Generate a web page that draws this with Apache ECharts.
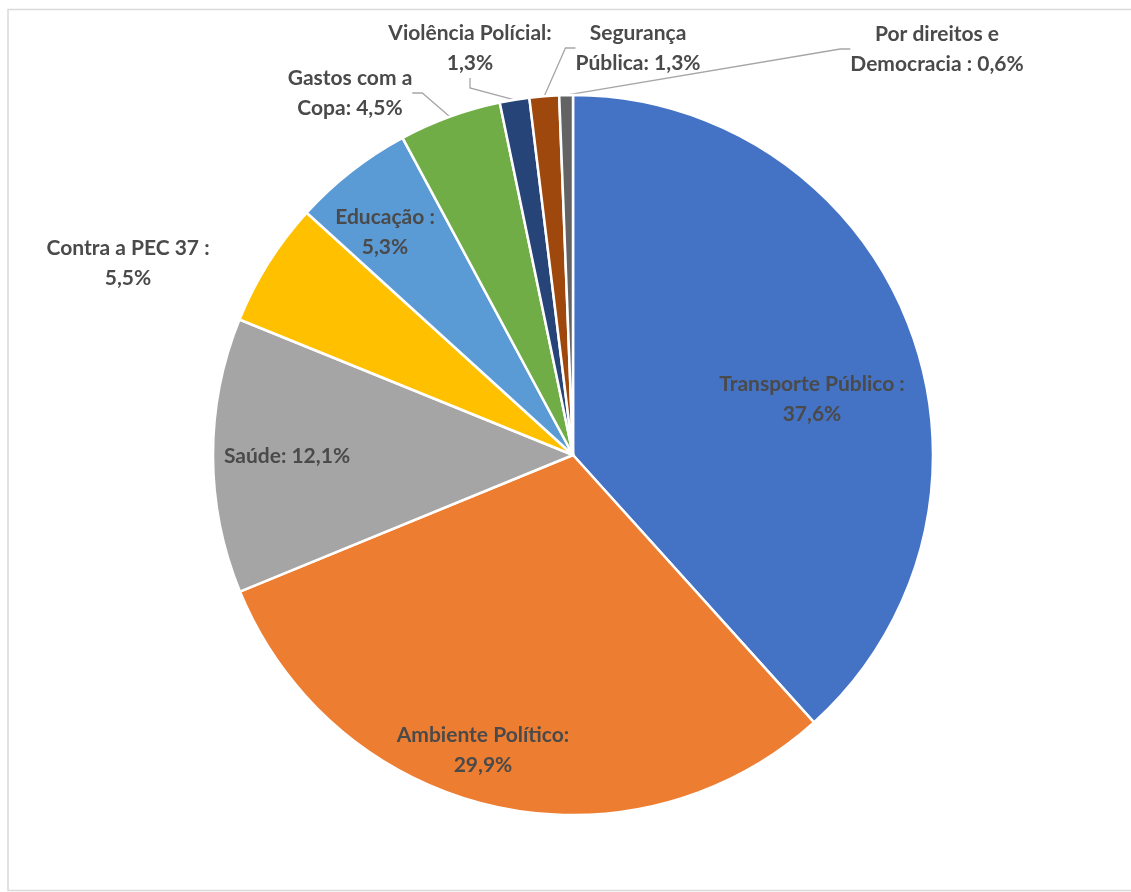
<!DOCTYPE html>
<html>
<head>
<meta charset="utf-8">
<script src="https://cdn.jsdelivr.net/npm/echarts@6/dist/echarts.min.js"></script>
<style>
  html, body { margin: 0; padding: 0; background: #fff; }
  #chart { width: 1131px; height: 892px; }
</style>
</head>
<body>
<div id="chart"></div>
<script>
// slices, clockwise from 12 o'clock
const categories = [
  "Transporte Público", "Ambiente Político", "Saúde", "Contra a PEC 37",
  "Educação", "Gastos com a Copa", "Violência Polícial", "Segurança Pública",
  "Por direitos e Democracia"
];
const values = [37.6, 29.9, 12.1, 5.5, 5.3, 4.5, 1.3, 1.3, 0.6];
// label text before the value (Excel wraps them like this)
const labelPrefix = [
  "Transporte Público :\n", "Ambiente Político:\n", "Saúde: ", "Contra a PEC 37 :\n",
  "Educação :\n", "Gastos com a\nCopa: ", "Violência Polícial:\n", "Segurança\nPública: ",
  "Por direitos e\nDemocracia : "
];
const colors = ["#4472C4", "#ED7D31", "#A5A5A5", "#FFC000", "#5B9BD5",
                "#70AD47", "#264478", "#9E480E", "#636363"];

// where each label sits (text centre), and whether it has a leader line
const labelSpots = [
  [812, 399], [483, 750], [287, 456], [128, 263],
  [385, 232], [350, 93], [470, 48], [638, 48], [937, 49]
];
const hasLeader = [false, false, false, false, false, true, true, true, true];

const chart = echarts.init(document.getElementById("chart"));

const pieData = categories.map((name, i) => ({
  name,
  value: values[i],
  itemStyle: { color: colors[i] },
  labelLine: { show: hasLeader[i] }
}));

chart.setOption({
  animation: false,
  graphic: [{
    type: "rect",
    shape: { x: 8, y: 9.5, width: 1140, height: 881 },
    style: { fill: "none", stroke: "#d9d9d9", lineWidth: 1.5 },
    silent: true
  }],
  series: [{
    type: "pie",
    center: [573, 455],
    radius: 360,
    startAngle: 90,
    clockwise: true,
    avoidLabelOverlap: false,
    itemStyle: { borderColor: "#fff", borderWidth: 2.5 },
    label: {
      show: true,
      position: "outside",
      formatter: (p) => labelPrefix[p.dataIndex] + String(p.value).replace(".", ",") + "%",
      fontFamily: "Lato, 'Open Sans', sans-serif",
      fontWeight: "bold",
      fontSize: 21,
      lineHeight: 30,
      color: "#4a4a4a",
      align: "center"
    },
    labelLine: {
      show: true,
      length: 10,
      length2: 10,
      smooth: false,
      lineStyle: { color: "#a6a6a6", width: 1.3 }
    },
    labelLayout: (params) => ({
      x: labelSpots[params.dataIndex][0],
      y: labelSpots[params.dataIndex][1],
      align: "center",
      verticalAlign: "middle"
    }),
    data: pieData
  }]
});
</script>
</body>
</html>
